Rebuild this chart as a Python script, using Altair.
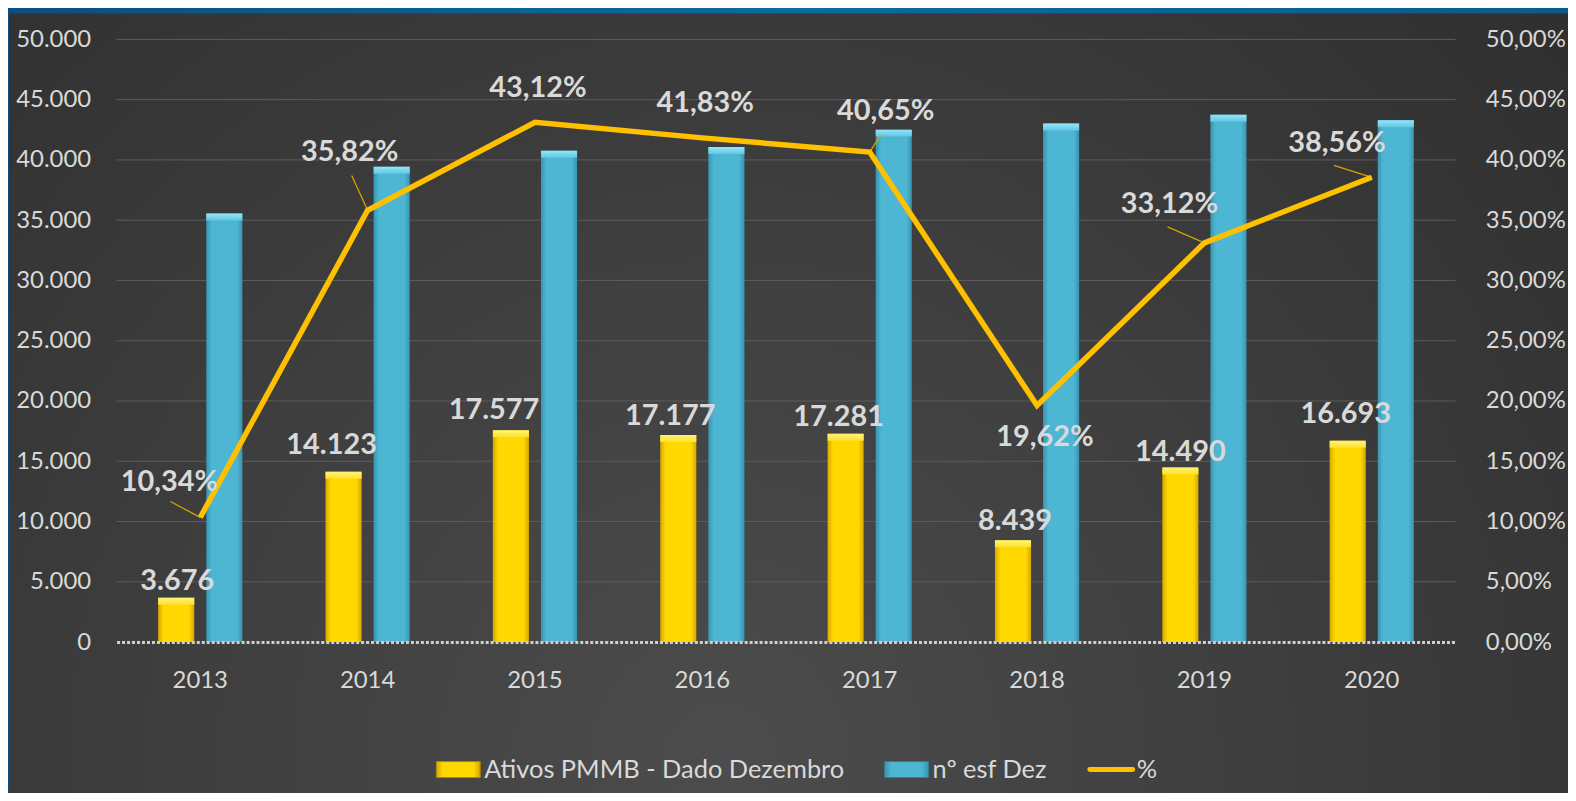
import altair as alt
import pandas as pd

# ---------------- data ----------------
YEARS = ["2013", "2014", "2015", "2016", "2017", "2018", "2019", "2020"]
ATIVOS = [3676, 14123, 17577, 17177, 17281, 8439, 14490, 16693]          # Ativos PMMB - Dado Dezembro
ESF = [35551, 39428, 40763, 41064, 42512, 43012, 43750, 43291]           # nº esf Dez
PCT = [0.1034, 0.3582, 0.4312, 0.4183, 0.4065, 0.1962, 0.3312, 0.3856]  # %
SERIES = ["Ativos PMMB - Dado Dezembro", "nº esf Dez"]
LEGEND_LABELS = ["Ativos PMMB - Dado Dezembro", "nº esf Dez", "%"]
LEFT_TICKS = [0, 5000, 10000, 15000, 20000, 25000, 30000, 35000, 40000, 45000, 50000]
RIGHT_TICKS = [0, 0.05, 0.10, 0.15, 0.20, 0.25, 0.30, 0.35, 0.40, 0.45, 0.50]


def br_int(v):
    return f"{v:,}".replace(",", ".")


def br_pct(v):
    return f"{v * 100:.2f}%".replace(".", ",")


bars_df = pd.DataFrame({
    "year": YEARS * 2,
    "serie": [SERIES[0]] * len(YEARS) + [SERIES[1]] * len(YEARS),
    "value": ATIVOS + ESF,
})
lab_df = pd.DataFrame({
    "year": YEARS,
    "serie": [SERIES[0]] * len(YEARS),
    "value": ATIVOS,
    "label": [br_int(v) for v in ATIVOS],
})
pct_df = pd.DataFrame({"year": YEARS, "pct": PCT, "label": [br_pct(p) for p in PCT]})
grid_df = pd.DataFrame({"value": LEFT_TICKS[1:]})
one_df = pd.DataFrame({"t": [LEGEND_LABELS[0]]})

# ---------------- styling ----------------
W, H = 1344, 605
PAD = {"left": 109, "top": 30, "right": 113, "bottom": 150}
TXT = "#d9d9d9"
FONT = "Lato"


def hgrad(edge, mid):
    return alt.LinearGradient(
        gradient="linear", x1=0, y1=0, x2=1, y2=0,
        stops=[alt.GradientStop(offset=0, color=edge),
               alt.GradientStop(offset=0.15, color=mid),
               alt.GradientStop(offset=0.85, color=mid),
               alt.GradientStop(offset=1, color=edge)])


def vgrad(top, bottom):
    return alt.LinearGradient(
        gradient="linear", x1=0, y1=0, x2=0, y2=1,
        stops=[alt.GradientStop(offset=0, color=top),
               alt.GradientStop(offset=1, color=bottom)])


YELLOW = hgrad("#d9a600", "#ffd800")
BLUE = hgrad("#3995b0", "#4db6d3")
YELLOW_TOP = vgrad("#fff27a", "#ffe02a")
BLUE_TOP = vgrad("#93e6f8", "#62c6e0")
BG = alt.RadialGradient(
    gradient="radial", x1=0.45, y1=0.72, x2=0.45, y2=0.72, r1=0, r2=0.85,
    stops=[alt.GradientStop(offset=0, color="#4c4c4c"),
           alt.GradientStop(offset=1, color="#2a2a2a")])
FRAME_BLUE = alt.LinearGradient(
    gradient="linear", x1=0, y1=0, x2=1, y2=0,
    stops=[alt.GradientStop(offset=0, color="#0a4f7e"),
           alt.GradientStop(offset=0.5, color="#0d6aa3"),
           alt.GradientStop(offset=1, color="#0b5a8c")])
LINE_COLOR = "#ffc000"

x_axis = alt.Axis(title=None, labelAngle=0, ticks=False, domain=True, zindex=1,
                  domainColor="#cfcfcf", domainWidth=3, domainDash=[3, 2],
                  labelPadding=27, labelFontSize=24, labelColor=TXT, labelFont=FONT)
x_scale = alt.Scale(paddingInner=0.497, paddingOuter=0.2485)


def X():
    return alt.X("year:N", sort=YEARS, scale=x_scale, axis=x_axis)


left_scale = alt.Scale(domain=[0, 50000], nice=False, zero=True)
left_axis = alt.Axis(title=None, orient="left", values=LEFT_TICKS, grid=False, ticks=False,
                     domain=False, zindex=1, labelPadding=26, labelFontSize=24, labelColor=TXT,
                     labelFont=FONT,
                     labelExpr="replace(format(datum.value, ','), ',', '.')")


def YL():
    return alt.Y("value:Q", scale=left_scale, axis=left_axis)


right_scale = alt.Scale(domain=[0, 0.5], nice=False, zero=True)
right_axis = alt.Axis(title=None, orient="right", values=RIGHT_TICKS, grid=False, ticks=False,
                      domain=False, zindex=1, labelPadding=30, labelFontSize=24, labelColor=TXT,
                      labelFont=FONT,
                      labelExpr="replace(format(datum.value, '.2%'), '.', ',')")


def YR():
    return alt.Y("pct:Q", scale=right_scale, axis=right_axis)


xoff = alt.XOffset("serie:N", scale=alt.Scale(domain=SERIES, paddingInner=0.25, paddingOuter=0))

base_bars = alt.Chart(bars_df)

# chart panel background and the blue photo frame showing at the top and left
background = alt.Chart(one_df).mark_rect(color=BG).encode(
    x=alt.value(-108), x2=alt.value(W + PAD["right"] + 20),
    y=alt.value(-26), y2=alt.value(H + PAD["bottom"] + 20))
frame_top = alt.Chart(one_df).mark_rect(color=FRAME_BLUE).encode(
    x=alt.value(-PAD["left"] - 5), x2=alt.value(W + PAD["right"] + 20),
    y=alt.value(-PAD["top"] - 5), y2=alt.value(-26))
frame_left = alt.Chart(one_df).mark_rect(color="#0a4f7e").encode(
    x=alt.value(-PAD["left"] - 5), x2=alt.value(-108),
    y=alt.value(-PAD["top"] - 5), y2=alt.value(H + PAD["bottom"] + 20))

grid = alt.Chart(grid_df).mark_rule(color="#5c5c5c", strokeWidth=1).encode(y=YL())


def bars_for(serie, body, top):
    body_layer = base_bars.mark_bar(color=body).encode(
        x=X(), xOffset=xoff, y=YL()).transform_filter(alt.datum.serie == serie)
    top_layer = base_bars.mark_bar(color=top, y2Offset=7).encode(
        x=X(), xOffset=xoff, y=YL(), y2=alt.Y2("value:Q")).transform_filter(
        alt.datum.serie == serie)
    return [body_layer, top_layer]


# per-label nudges (pixels), as placed in the reference
BAR_NUDGE = {
    "2013": (1, -17), "2014": (-12, -27), "2015": (-17, -20), "2016": (-8, -19),
    "2017": (-7, -17), "2018": (2, -19), "2019": (0, -15), "2020": (-2, -27),
}
bar_label_layers = []
for yr, (ddx, ddy) in BAR_NUDGE.items():
    bar_label_layers.append(
        alt.Chart(lab_df).mark_text(
            font=FONT, fontSize=29, fontWeight="bold", color=TXT, baseline="middle",
            dx=ddx, dy=ddy
        ).encode(x=X(), xOffset=xoff, y=YL(), text="label:N").transform_filter(
            alt.datum.year == yr)
    )

left = alt.layer(background, frame_top, frame_left, grid,
                 *bars_for(SERIES[0], YELLOW, YELLOW_TOP),
                 *bars_for(SERIES[1], BLUE, BLUE_TOP),
                 *bar_label_layers)

line = alt.Chart(pct_df).mark_line(color=LINE_COLOR, strokeWidth=5.5).encode(x=X(), y=YR())

PCT_NUDGE = {
    "2013": (-31, -36), "2014": (-18, -59), "2015": (3, -34), "2016": (3, -35),
    "2017": (16, -41), "2018": (8, 32), "2019": (-35, -39), "2020": (-35, -34),
}
# leader lines from the point toward its label (pixel offsets of the far end)
LEADERS = {
    "2013": (-30, -16), "2014": (-16, -35), "2017": (11, -17),
    "2019": (-37, -16), "2020": (-38, -12),
}
LEADER_SCALE = 40.0  # custom symbol path units -> pixels (size = (2*scale)^2)

leader_layers = []
for yr, (lx, ly) in LEADERS.items():
    path = f"M0,0 L{lx / LEADER_SCALE:.3f},{ly / LEADER_SCALE:.3f}"
    leader_layers.append(
        alt.Chart(pct_df).mark_point(
            shape=path, size=(2 * LEADER_SCALE) ** 2, filled=False,
            stroke="#d4a300", strokeWidth=1.3, opacity=1
        ).encode(x=X(), y=YR()).transform_filter(alt.datum.year == yr)
    )
pct_layers = []
for yr, (ddx, ddy) in PCT_NUDGE.items():
    pct_layers.append(
        alt.Chart(pct_df).mark_text(
            font=FONT, fontSize=29, fontWeight="bold", color=TXT, baseline="middle",
            dx=ddx, dy=ddy
        ).encode(x=X(), y=YR(), text="label:N").transform_filter(alt.datum.year == yr)
    )

right = alt.layer(*leader_layers, line, *pct_layers)

# ---------------- manual legend ----------------
LY = 733
leg_items = [
    alt.Chart(one_df).mark_rect(color=YELLOW, stroke="#b08a00", strokeWidth=1).encode(
        x=alt.value(321), x2=alt.value(365), y=alt.value(LY - 8), y2=alt.value(LY + 8)),
    alt.Chart(one_df).mark_text(font=FONT, fontSize=25.5, color=TXT, align="left",
                                baseline="middle", text=LEGEND_LABELS[0]).encode(
        x=alt.value(369), y=alt.value(LY)),
    alt.Chart(one_df).mark_rect(color=BLUE, stroke="#2f7f96", strokeWidth=1).encode(
        x=alt.value(771), x2=alt.value(815), y=alt.value(LY - 8), y2=alt.value(LY + 8)),
    alt.Chart(one_df).mark_text(font=FONT, fontSize=25.5, color=TXT, align="left",
                                baseline="middle", text=LEGEND_LABELS[1]).encode(
        x=alt.value(819), y=alt.value(LY)),
    alt.Chart(one_df).mark_rule(color=LINE_COLOR, strokeWidth=5, strokeCap="round").encode(
        x=alt.value(977), x2=alt.value(1020), y=alt.value(LY)),
    alt.Chart(one_df).mark_text(font=FONT, fontSize=25.5, color=TXT, align="left",
                                baseline="middle", text=LEGEND_LABELS[2]).encode(
        x=alt.value(1024), y=alt.value(LY)),
]

chart = alt.layer(left, right, *leg_items).resolve_scale(y="independent").properties(
    width=W, height=H,
    autosize=alt.AutoSizeParams(type="none"),
    padding=PAD,
).configure(background="#2a2a2a", font=FONT).configure_view(stroke=None)

chart.save("out.html", embed_options={"renderer": "svg", "actions": False})
